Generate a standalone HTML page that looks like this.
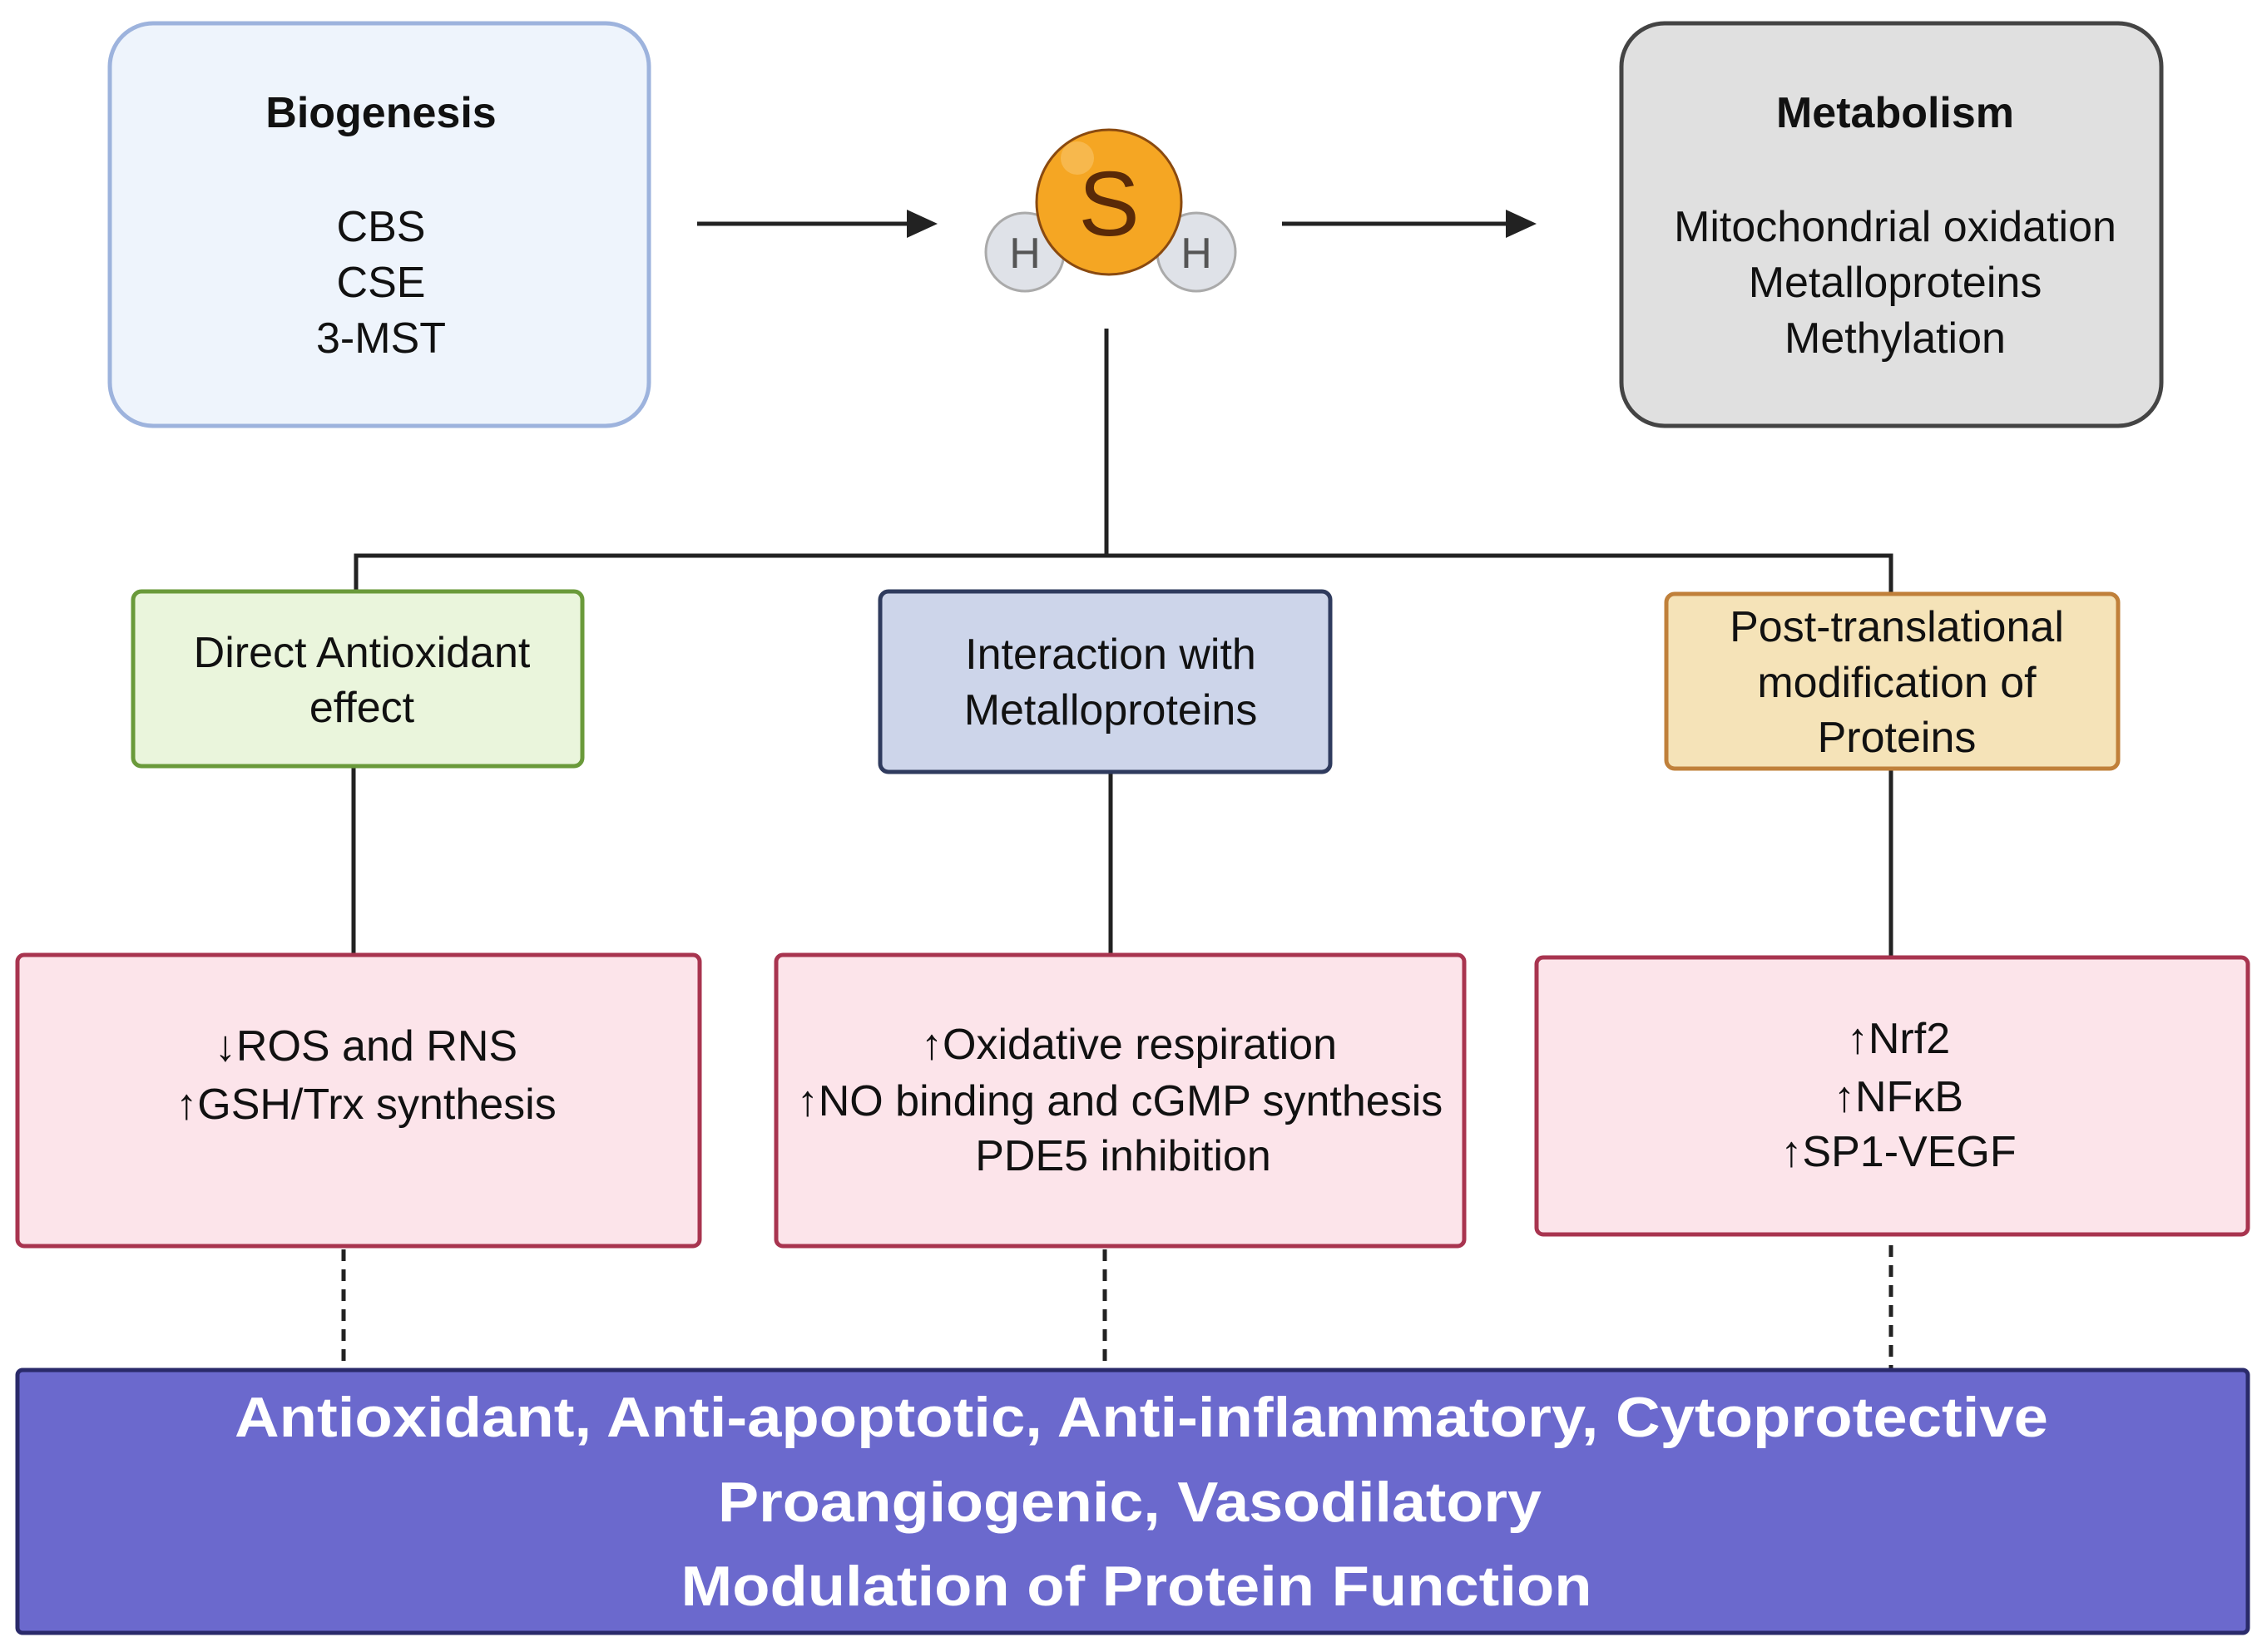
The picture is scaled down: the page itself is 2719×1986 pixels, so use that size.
<!DOCTYPE html>
<html><head><meta charset="utf-8"><style>html,body{margin:0;padding:0;background:#fff}svg{display:block}</style></head><body>
<svg width="2719" height="1986" viewBox="0 0 2719 1986" xmlns="http://www.w3.org/2000/svg" font-family="Liberation Sans, sans-serif">
<!-- top boxes -->
<rect x="132" y="28" width="648" height="484" rx="52" fill="#eef4fc" stroke="#9db3dd" stroke-width="5"/>
<rect x="1949" y="28" width="649" height="484" rx="52" fill="#e0e0e0" stroke="#444" stroke-width="5"/>
<g font-size="52" text-anchor="middle" fill="#111">
<text x="458" y="153" font-weight="bold">Biogenesis</text>
<text x="458" y="290">CBS</text><text x="458" y="357">CSE</text><text x="458" y="424">3-MST</text>
<text x="2278" y="153" font-weight="bold">Metabolism</text>
<text x="2278" y="290">Mitochondrial oxidation</text><text x="2278" y="357">Metalloproteins</text><text x="2278" y="424">Methylation</text>
</g>
<!-- arrows -->
<line x1="838" y1="269" x2="1100" y2="269" stroke="#222" stroke-width="5"/>
<path d="M1090,252 L1127,269 L1090,286 z" fill="#222"/>
<line x1="1541" y1="269" x2="1820" y2="269" stroke="#222" stroke-width="5"/>
<path d="M1810,252 L1847,269 L1810,286 z" fill="#222"/>
<!-- molecule -->
<circle cx="1232" cy="303" r="47" fill="#dfe2e8" stroke="#aaa" stroke-width="3"/>
<circle cx="1438" cy="303" r="47" fill="#dfe2e8" stroke="#aaa" stroke-width="3"/>
<text x="1232" y="322" font-size="52" text-anchor="middle" fill="#555">H</text>
<text x="1438" y="322" font-size="52" text-anchor="middle" fill="#555">H</text>
<circle cx="1333" cy="243" r="87" fill="#f5a623" stroke="#8a4a10" stroke-width="3"/>
<circle cx="1295" cy="190" r="20" fill="#f8c060" opacity="0.7"/>
<text x="1333" y="283" font-size="110" text-anchor="middle" fill="#5a2a08">S</text>
<!-- connectors -->
<g stroke="#222" stroke-width="5" fill="none">
<path d="M1330,395 V668"/>
<path d="M428,711 V668 H2273 V714"/>
<path d="M425,921 V1148"/><path d="M1335,928 V1148"/><path d="M2273,924 V1151"/>
</g>
<g stroke="#222" stroke-width="5" stroke-dasharray="14,10">
<path d="M413,1502 V1645"/><path d="M1328,1502 V1645"/><path d="M2273,1497 V1645"/>
</g>
<!-- middle boxes -->
<rect x="160" y="711" width="540" height="210" rx="10" fill="#eaf5dc" stroke="#6a9a3a" stroke-width="5"/>
<rect x="1058" y="711" width="541" height="217" rx="10" fill="#cdd5ea" stroke="#2f3b5e" stroke-width="5"/>
<rect x="2003" y="714" width="543" height="210" rx="10" fill="#f5e3b8" stroke="#c0803a" stroke-width="5"/>
<g font-size="52" text-anchor="middle" fill="#111">
<text x="435" y="802">Direct Antioxidant</text><text x="435" y="868">effect</text>
<text x="1335" y="804">Interaction with</text><text x="1335" y="871">Metalloproteins</text>
<text x="2280" y="771">Post-translational</text><text x="2280" y="838">modification of</text><text x="2280" y="904">Proteins</text>
</g>
<!-- pink boxes -->
<rect x="21" y="1148" width="820" height="350" rx="8" fill="#fce4ea" stroke="#a8344f" stroke-width="5"/>
<rect x="933" y="1148" width="827" height="350" rx="8" fill="#fce4ea" stroke="#a8344f" stroke-width="5"/>
<rect x="1847" y="1151" width="855" height="333" rx="8" fill="#fce4ea" stroke="#a8344f" stroke-width="5"/>
<g font-size="52" text-anchor="middle" fill="#111">
<text x="440" y="1275">↓ROS and RNS</text><text x="440" y="1345">↑GSH/Trx synthesis</text>
<text x="1357" y="1273">↑Oxidative respiration</text><text x="1346" y="1341">↑NO binding and cGMP synthesis</text><text x="1350" y="1407">PDE5 inhibition</text>
<text x="2282" y="1266">↑Nrf2</text><text x="2282" y="1336">↑NFκB</text><text x="2282" y="1402">↑SP1-VEGF</text>
</g>
<!-- bottom -->
<rect x="21" y="1647" width="2681" height="316" rx="6" fill="#6b69cd" stroke="#2a2a6a" stroke-width="5"/>
<g font-size="68" font-weight="bold" text-anchor="middle" fill="#fff">
<text x="1372" y="1727" textLength="2180" lengthAdjust="spacingAndGlyphs">Antioxidant, Anti-apoptotic, Anti-inflammatory, Cytoprotective</text>
<text x="1358" y="1829" textLength="990" lengthAdjust="spacingAndGlyphs">Proangiogenic, Vasodilatory</text>
<text x="1366" y="1930" textLength="1095" lengthAdjust="spacingAndGlyphs">Modulation of Protein Function</text>
</g>
</svg>
</body></html>
